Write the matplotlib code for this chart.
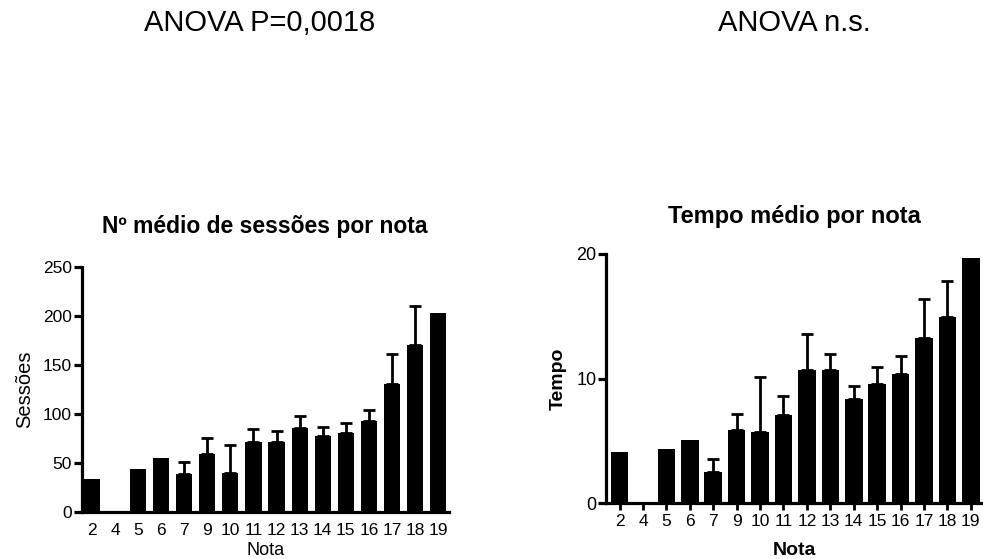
import matplotlib
matplotlib.use("Agg")
import matplotlib.pyplot as plt
import numpy as np

plt.rcParams["font.family"] = ["Liberation Sans", "DejaVu Sans"]

notas = ["2", "4", "5", "6", "7", "9", "10", "11", "12", "13", "14", "15", "16", "17", "18", "19"]

sessoes_media = [34, 0, 44, 55, 39, 59, 40, 71, 71, 86, 77, 81, 93, 130, 170, 203]
sessoes_erro = [0, 0, 0, 0, 12, 16, 28, 14, 12, 12, 10, 10, 11, 31, 40, 0]

tempo_media = [4.15, 0, 4.35, 5.1, 2.55, 5.85, 5.75, 7.05, 10.7, 10.7, 8.4, 9.55, 10.4, 13.25, 14.95, 19.7]
tempo_erro = [0, 0, 0, 0, 1.0, 1.35, 4.4, 1.55, 2.9, 1.3, 1.0, 1.35, 1.45, 3.15, 2.85, 0]

W, H = 983, 559
fig = plt.figure(figsize=(W / 100, H / 100), dpi=100)


def px_axes(x0, x1, ytop, ybot):
    return fig.add_axes([x0 / W, (H - ybot) / H, (x1 - x0) / W, (ybot - ytop) / H])


def style(ax):
    for s in ("top", "right"):
        ax.spines[s].set_visible(False)
    for s in ("left", "bottom"):
        ax.spines[s].set_linewidth(2.3)
    ax.tick_params(axis="y", length=6, width=2.3, pad=1)


def draw_bars(ax, media, erro, width):
    x = np.arange(len(media))
    ax.bar(x, media, width=width, color="black")
    # only the bars that have an error value get the upper whisker
    idx = [i for i in range(len(erro)) if erro[i] > 0]
    m = np.array(media)[idx]
    e = np.array(erro)[idx]
    ax.errorbar(np.array(idx), m, yerr=[np.zeros(len(idx)), e], fmt="none",
                ecolor="black", elinewidth=2, capsize=4, capthick=2)
    ax.set_xticks(x)
    ax.set_xticklabels(notas)


# left: sessions
ax1 = px_axes(81.5, 449, 266.7, 512)
draw_bars(ax1, sessoes_media, sessoes_erro, 0.7)
ax1.set_xlim(-0.45, 15.47)
ax1.set_ylim(0, 250)
ax1.set_yticks([0, 50, 100, 150, 200, 250])
style(ax1)
ax1.tick_params(axis="x", length=0, pad=8, labelsize=12.5)
ax1.tick_params(axis="y", labelsize=12.5)
ax1.set_ylabel("Sessões", fontsize=14.5, labelpad=6)
ax1.set_xlabel("Nota", fontsize=13, labelpad=2.5)
ax1.set_title("Nº médio de sessões por nota", fontsize=16.5, fontweight="bold", pad=24)

# right: time
ax2 = px_axes(606, 983, 254, 503.3)
draw_bars(ax2, tempo_media, tempo_erro, 0.75)
ax2.set_xlim(-0.58, 15.52)
ax2.set_ylim(0, 20)
ax2.set_yticks([0, 10, 20])
style(ax2)
ax2.tick_params(axis="x", length=5, width=2, pad=3, labelsize=12.5)
ax2.tick_params(axis="y", labelsize=13)
ax2.set_ylabel("Tempo", fontsize=14, fontweight="bold", labelpad=7)
ax2.set_xlabel("Nota", fontsize=14, fontweight="bold", labelpad=9)
ax2.set_title("Tempo médio por nota", fontsize=17, fontweight="bold", pad=22)

fig.text(260 / W, 1 - 23 / H, "ANOVA P=0,0018", ha="center", va="center", fontsize=21)
fig.text(794 / W, 1 - 23 / H, "ANOVA n.s.", ha="center", va="center", fontsize=21)

fig.savefig("out.png", dpi=100)
